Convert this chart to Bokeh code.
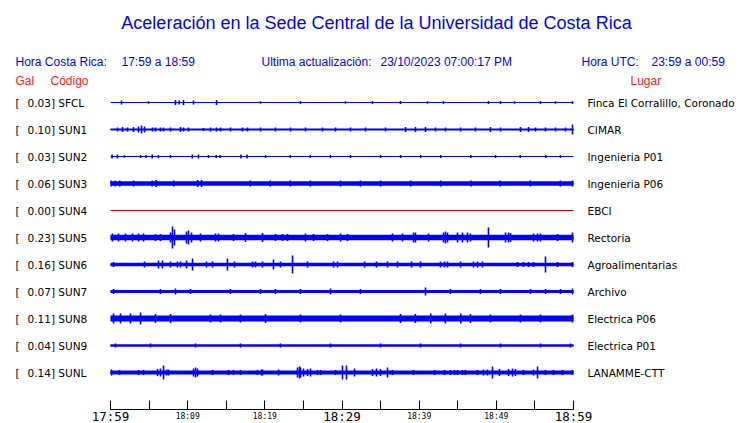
from bokeh.plotting import figure
from bokeh.models import Range1d, LinearAxis, FixedTicker, ColumnDataSource
from bokeh.core.properties import value
from bokeh.embed import file_html
from bokeh.resources import INLINE

# ---------------- data ----------------
codes = ["SFCL", "SUN1", "SUN2", "SUN3", "SUN4", "SUN5", "SUN6", "SUN7", "SUN8", "SUN9", "SUNL"]
gal = [0.03, 0.10, 0.03, 0.06, 0.00, 0.23, 0.16, 0.07, 0.11, 0.04, 0.14]
places = ["Finca El Corralillo, Coronado", "CIMAR", "Ingenieria P01", "Ingenieria P06", "EBCI",
          "Rectoria", "Agroalimentarias", "Archivo", "Electrica P06", "Electrica P01", "LANAMME-CTT"]
# background (noise) half-amplitude of each trace
noise = [0.6, 1.0, 0.6, 2.3, 0.5, 2.8, 1.7, 1.6, 3.0, 1.2, 1.9]

# bursts: (minutes after 17:59, half-amplitude)
bursts_sfcl = [(1.43, 2), (4.92, 1.2), (8.42, 2.5), (8.9, 2), (9.46, 2.5), (10.76, 2), (13.74, 2.5),
               (19.44, 1.2), (24.62, 1.5), (30.45, 1.2), (33.95, 1.5), (37.58, 1.5), (41.08, 1.2),
               (43.15, 1.5), (48.98, 1.5), (50.54, 1.5), (52.35, 1.2), (55.72, 1.5), (57.67, 1.2), (59.87, 1.5)]
bursts_sun1 = [(0.91, 2), (1.56, 2.5), (2.2, 2), (2.98, 2.5), (3.63, 3), (4.02, 4), (4.41, 3), (5.44, 2),
               (5.83, 2), (6.48, 2), (6.87, 2), (7.78, 2), (9.07, 2.5), (9.46, 2), (10.11, 2), (12.05, 1.5),
               (12.96, 2), (13.74, 2), (14.26, 2), (15.55, 2), (17.1, 2), (17.75, 2), (19.44, 2), (21.38, 2),
               (23.33, 2), (25.27, 2), (27.47, 2), (29.16, 2), (31.1, 2), (33.05, 2), (35.64, 2), (38.23, 2.5),
               (39.52, 2.5), (40.82, 2.5), (42.12, 2), (43.41, 2), (45.36, 2), (47.3, 2), (49.24, 2.5),
               (50.54, 2), (53.13, 2.5), (54.17, 2.5), (55.08, 2), (56.37, 2), (57.67, 2), (58.96, 2), (59.87, 5)]
bursts_sun2 = [(0.2, 2), (0.9, 2), (1.8, 1.2), (3.9, 1.5), (4.6, 1.5), (5.4, 2), (6.2, 1.5), (7.78, 1.5),
               (10.6, 2), (11.4, 2), (12.7, 1.5), (13.7, 1.5), (14.2, 1.5), (16.9, 2), (17.7, 2),
               (20.1, 1.5), (23.3, 1.5), (25.9, 1.5), (28.5, 1.5), (31.1, 1.5), (35.0, 1.5), (37.6, 1.5),
               (40.2, 1.5), (42.8, 1.5), (46.7, 1.5), (49.9, 1.5), (53.1, 1.5), (56.4, 1.5), (58.3, 1.5)]
bursts_sun3 = [(0.1, 3), (0.6, 3), (1.2, 3), (3.0, 3), (5.4, 3), (5.9, 3.5), (8.2, 3), (11.3, 3.5),
               (11.8, 3.5), (18.1, 3), (20.7, 3), (23.3, 3), (25.9, 3), (29.8, 3), (32.4, 3), (35.0, 3),
               (38.9, 3), (42.8, 3), (46.7, 3), (50.5, 3), (54.4, 3), (58.3, 3), (59.87, 3)]
bursts_sun5 = [(0.26, 4), (1.04, 4), (1.94, 4), (2.85, 4), (3.63, 4), (4.28, 4), (5.83, 3.5), (6.48, 3.5),
               (7.78, 5), (8.03, 11), (8.29, 8), (9.85, 6), (10.11, 7), (10.5, 5), (11.66, 4), (13.61, 4),
               (14.0, 4), (15.94, 3.5), (17.49, 4.5), (19.70, 4.5), (21.38, 3.5), (22.29, 3.5), (22.94, 3.5),
               (25.27, 4), (26.31, 3.5), (28.12, 3.5), (29.81, 4), (30.71, 3.5), (36.54, 4), (37.84, 4),
               (39.27, 5), (39.52, 5), (41.21, 4), (43.15, 5), (43.41, 6), (43.67, 5), (44.97, 5), (45.61, 5),
               (46.26, 5), (46.65, 4), (48.98, 10), (51.19, 5), (51.58, 5), (51.84, 4.5), (54.82, 4),
               (55.34, 4), (55.72, 4), (57.93, 3.5), (59.87, 5)]
bursts_sun6 = [(0.39, 2.5), (4.41, 3), (6.22, 4), (6.74, 4), (7.78, 3), (8.68, 3), (9.07, 3), (9.85, 4),
               (10.63, 6), (12.44, 3), (13.22, 3), (15.16, 6), (16.07, 3), (18.40, 3), (18.79, 3), (19.70, 3),
               (21.12, 5), (22.03, 3), (23.59, 9), (25.53, 3), (28.90, 3), (29.42, 3), (32.92, 3), (34.47, 3),
               (35.90, 3), (37.19, 3), (39.01, 3), (40.17, 3), (42.76, 3), (43.28, 3), (43.67, 3), (45.36, 3),
               (47.04, 3), (47.56, 3), (48.21, 3), (52.74, 2.5), (53.52, 2.5), (54.17, 2.5), (54.82, 2.5),
               (56.37, 8), (57.93, 2.5), (59.87, 2.5)]
bursts_sun7 = [(0.39, 2.5), (6.48, 2.5), (8.42, 3), (10.37, 2.5), (15.55, 2.5), (19.44, 2.5), (21.38, 2.5),
               (24.62, 2.5), (28.51, 3), (32.4, 2.5), (40.82, 4), (44.06, 2.5), (47.95, 2.5), (50.54, 2.5),
               (54.43, 2.5), (56.37, 2.5), (58.32, 2.5), (59.87, 3)]
bursts_sun8 = [(0.39, 5), (1.3, 5), (2.59, 5), (3.89, 6), (5.83, 4.5), (7.78, 4.5), (12.96, 4), (14.26, 4),
               (16.85, 4), (20.09, 4.5), (24.62, 4), (29.81, 4), (37.58, 4.5), (39.5, 4.5), (41.5, 5),
               (43.4, 5), (45.4, 5), (46.65, 4.5), (49.24, 4), (53.13, 4), (55.72, 4), (59.87, 4)]
bursts_sun9 = [(0.65, 2), (5.18, 2), (11.02, 2), (16.85, 2), (22.03, 2), (28.51, 2), (34.99, 2),
               (40.17, 2), (45.36, 2), (50.54, 2), (55.72, 2), (59.61, 2)]
bursts_sunl = [(0.13, 3), (1.17, 2.5), (3.63, 2.5), (4.28, 2.5), (6.09, 3.5), (6.48, 4), (6.87, 7), (7.26, 3),
               (7.52, 3), (10.76, 4), (11.02, 5), (11.27, 4), (13.22, 2.5), (15.29, 2.5), (15.94, 2.5),
               (16.85, 2.5), (19.05, 2.5), (19.57, 3), (19.7, 3), (21.77, 3), (24.23, 5), (24.49, 6), (24.62, 5),
               (25.01, 4), (25.53, 3.5), (25.92, 4), (26.83, 2.5), (27.21, 2.5), (29.16, 2.5), (30.06, 7),
               (30.58, 7), (31.62, 4), (33.95, 3.5), (34.47, 4), (34.99, 3.5), (35.90, 5), (36.54, 2.5),
               (39.27, 2.5), (41.99, 2.5), (43.28, 2.5), (44.06, 2.5), (44.58, 2.5), (44.97, 2.5), (45.61, 2.5),
               (46.0, 2.5), (47.56, 2.5), (48.33, 3), (48.85, 3), (49.50, 6), (50.41, 3.5), (51.58, 3.5),
               (52.1, 4), (52.48, 3.5), (53.52, 2.5), (54.82, 3), (55.34, 6), (56.37, 2.5), (57.41, 2.5),
               (58.57, 2.5), (59.87, 2.5)]
bursts = [bursts_sfcl, bursts_sun1, bursts_sun2, bursts_sun3, [], bursts_sun5, bursts_sun6,
          bursts_sun7, bursts_sun8, bursts_sun9, bursts_sunl]

tick_minutes = list(range(0, 61, 5))
small_tick_labels = {10: "18:09", 20: "18:19", 40: "18:39", 50: "18:49"}
big_tick_labels = {0: "17:59", 30: "18:29", 60: "18:59"}

title_text = "Aceleración en la Sede Central de la Universidad de Costa Rica"

# ---------------- layout ----------------
W, H = 740, 423
PX_START, PX_END = 110, 573          # page x of 17:59 and 18:59
SCALE = (PX_END - PX_START) / 60.0
X0 = -PX_START / SCALE
X1 = X0 + W / SCALE
AXIS_Y = 409


def px(xpage):
    return X0 + xpage / SCALE


Y0, DY = 102, 27
BLUE = "#0000ff"
RED = "#ff1a1a"

p = figure(width=W, height=H, output_backend="svg", toolbar_location=None,
           x_range=Range1d(X0, X1), y_range=Range1d(H, 0),
           x_axis_type=None, y_axis_type=None, min_border=0)
p.outline_line_color = None
p.background_fill_color = "white"
p.border_fill_color = "white"

ys = [Y0 + DY * i for i in range(len(codes))]

# traces
cl = dict(x0=[], x1=[], y=[], c=[])
qd = dict(l=[], r=[], b=[], t=[])
sg = dict(x=[], y0=[], y1=[])
for i, code in enumerate(codes):
    y = ys[i]
    cl["x0"].append(0); cl["x1"].append(60); cl["y"].append(y)
    cl["c"].append("#d00000" if gal[i] == 0 else BLUE)
    if noise[i] > 0.7:
        qd["l"].append(0); qd["r"].append(60); qd["b"].append(y - noise[i]); qd["t"].append(y + noise[i])
    for t, a in bursts[i]:
        sg["x"].append(t); sg["y0"].append(y - a); sg["y1"].append(y + a)

p.quad(left="l", right="r", bottom="b", top="t", source=ColumnDataSource(qd),
       fill_color=BLUE, line_color=None)
p.segment(x0="x0", x1="x1", y0="y", y1="y", source=ColumnDataSource(cl), line_color="c", line_width=1.2)
p.segment(x0="x", x1="x", y0="y0", y1="y1", source=ColumnDataSource(sg), line_color=BLUE, line_width=1.6)

# station labels
FONT_ST = value("DejaVu Sans")
FS = "10.5px"
p.text(x=[0] * len(codes), y=ys, text=["["] * len(codes), x_offset=-95,
       text_font=FONT_ST, text_font_size=FS, text_baseline="middle", text_color="black")
p.text(x=[0] * len(codes), y=ys, text=[f"{g:.2f}] {c}" for g, c in zip(gal, codes)], x_offset=-83,
       text_font=FONT_ST, text_font_size=FS, text_baseline="middle", text_color="black")
p.text(x=[60] * len(codes), y=ys, text=places, x_offset=14,
       text_font=FONT_ST, text_font_size=FS, text_baseline="middle", text_color="black")

# titles / headers
FONT_H = value("Liberation Sans")
p.text(x=[px(376)], y=[22], text=[title_text], text_align="center", text_baseline="middle",
       text_font=FONT_H, text_font_size="18px", text_color=BLUE)
hdr_x = [px(15), px(121), px(261), px(380), px(581), px(651)]
hdr_t = ["Hora Costa Rica:", "17:59 a 18:59", "Ultima actualización:", "23/10/2023 07:00:17 PM",
         "Hora UTC:", "23:59 a 00:59"]
p.text(x=hdr_x, y=[61] * 6, text=hdr_t, text_baseline="middle", text_font=FONT_H,
       text_font_size="12px", text_color=BLUE)
p.text(x=[px(15), px(50), px(630)], y=[80.5] * 3, text=["Gal", "Código", "Lugar"], text_baseline="middle",
       text_font=FONT_H, text_font_size="12px", text_color=RED)

# time axis (drawn at a fixed location inside the canvas)
ax = LinearAxis(bounds=(0, 60), ticker=FixedTicker(ticks=tick_minutes), fixed_location=AXIS_Y)
ax.major_tick_in = 9
ax.major_tick_out = 0
ax.minor_tick_in = 0
ax.minor_tick_out = 0
ax.axis_line_color = "black"
ax.major_tick_line_color = "black"
ax.major_label_standoff = 2
ax.major_label_text_font = "DejaVu Sans Mono"
ax.major_label_text_font_size = "8px"
ax.major_label_text_color = "black"
ax.major_label_overrides = {m: small_tick_labels.get(m, "") for m in tick_minutes}
p.add_layout(ax, "below")

p.text(x=list(big_tick_labels.keys()), y=[AXIS_Y + 7] * len(big_tick_labels),
       text=list(big_tick_labels.values()), text_align="center", text_baseline="middle",
       text_font=value("DejaVu Sans Mono"), text_font_size="12.5px", text_color="black")

open("out.html", "w").write(file_html(p, INLINE))
